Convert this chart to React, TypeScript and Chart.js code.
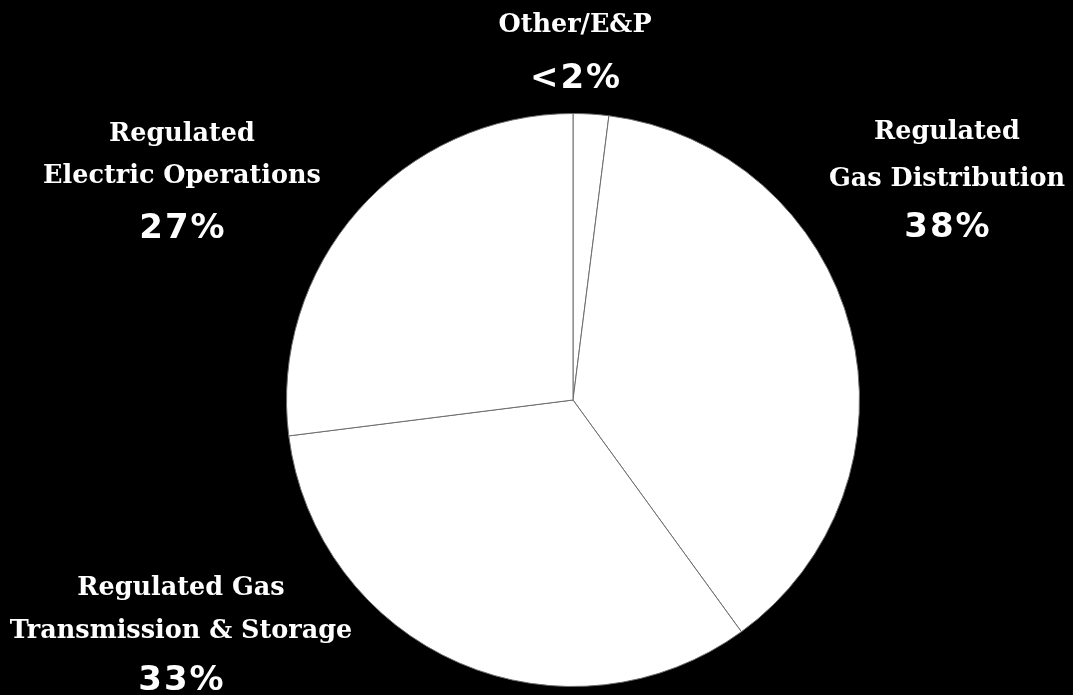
import React, { useEffect, useRef } from "react";
import { Chart, registerables } from "chart.js";

Chart.register(...registerables);

// Segment names, clockwise from 12 o'clock
const segments = ["Other/E&P", "Regulated Gas Distribution", "Regulated Gas Transmission & Storage", "Regulated Electric Operations"];
// Share of the total, in percent
const shares = [2, 38, 33, 27];
// Percent captions shown beside each segment
const shareLabels = ["<2%", "38%", "33%", "27%"];
// Name lines written above each caption
const nameLines = [["Other/E&P"], ["Regulated", "Gas Distribution"], ["Regulated Gas", "Transmission & Storage"], ["Regulated", "Electric Operations"]];

// Where each caption block sits: centre x, baselines of name lines, baseline of percent
const captionPos = [
  { x: 575, lines: [32], pct: 88 },
  { x: 947, lines: [139, 186], pct: 237 },
  { x: 181, lines: [595, 638], pct: 690 },
  { x: 182, lines: [141, 183], pct: 238 },
];

const PCT_SPACING = 2;

const captionPlugin = {
  id: "captions",
  afterDraw(chart: Chart) {
    const ctx = chart.ctx as CanvasRenderingContext2D & { letterSpacing: string };
    ctx.save();
    ctx.fillStyle = "#ffffff";
    ctx.textAlign = "center";
    ctx.textBaseline = "alphabetic";
    captionPos.forEach((p, i) => {
      ctx.letterSpacing = "0px";
      ctx.font = "bold 25.5px 'DejaVu Serif'";
      nameLines[i].forEach((line, j) => ctx.fillText(line, p.x, p.lines[j]));
      ctx.letterSpacing = PCT_SPACING + "px";
      ctx.font = "bold 34px 'DejaVu Sans'";
      ctx.fillText(shareLabels[i], p.x + PCT_SPACING / 2, p.pct);
    });
    ctx.restore();
  },
};

export default function App() {
  const ref = useRef<HTMLCanvasElement>(null);
  useEffect(() => {
    document.body.style.margin = "0";
    document.body.style.background = "#000";
    const chart = new Chart(ref.current!, {
      type: "pie",
      data: {
        labels: segments,
        datasets: [
          {
            data: shares,
            backgroundColor: "#ffffff",
            borderColor: "#6e6e6e",
            borderWidth: 1,
          },
        ],
      },
      options: {
        animation: false,
        responsive: false,
        layout: { padding: { top: 113, bottom: 8, left: 286, right: 213 } },
        plugins: { legend: { display: false }, tooltip: { enabled: false } },
      },
      plugins: [captionPlugin],
    });
    return () => chart.destroy();
  }, []);
  return (
    <div style={{ width: 1073, height: 695, background: "#000" }}>
      <canvas ref={ref} width={1073} height={695} style={{ display: "block" }} />
    </div>
  );
}
